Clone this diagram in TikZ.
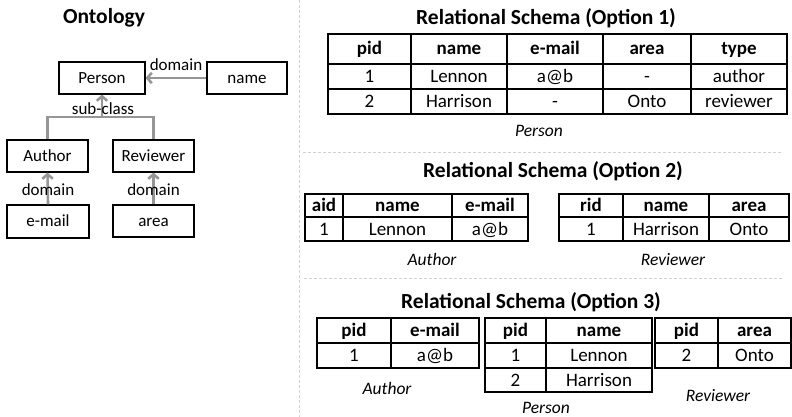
\documentclass[tikz,border=0pt]{standalone}
\usepackage{fontspec}
\setmainfont{Carlito}
\usetikzlibrary{arrows.meta,shadows}
\definecolor{conn}{RGB}{150,150,150}
\definecolor{sepc}{RGB}{208,208,208}
\newcommand\tcell[7][cell]{\node[#1,minimum width={(#5-#3)*1pt},minimum height={(#6-#4)*1pt}] (#2) at ({(#3+#5)/2},{(#4+#6)/2}) {#7};}
\begin{document}
\begin{tikzpicture}[x=1pt,y=-1pt,
  cell/.style={draw=black,line width=1.2pt,inner sep=0pt,font=\fontsize{19}{22}\selectfont,text height=12pt,text depth=0pt},
  hcell/.style={cell,font=\fontsize{19}{22}\selectfont\bfseries},
  title/.style={font=\fontsize{21.5}{25}\selectfont\bfseries,inner sep=0pt,anchor=base},
  caption/.style={font=\fontsize{17.5}{21}\selectfont\itshape,inner sep=0pt,anchor=base},
  ont/.style={draw=black,line width=1.2pt,fill=white,inner sep=0pt,font=\fontsize{17}{20}\selectfont,text height=10.9pt,text depth=0pt,
    drop shadow={shadow xshift=1.3pt,shadow yshift=-1.3pt,opacity=0.35}},
  lbl/.style={font=\fontsize{17}{20}\selectfont,inner sep=0pt,anchor=base},
  gline/.style={draw=conn,line width=2.6pt},
  garrow/.style={gline,-{Straight Barb[length=4.5pt,width=10.5pt]}},
  sepline/.style={draw=sepc,line width=0.8pt,dash pattern=on 3pt off 2pt}]
\useasboundingbox (0,0) rectangle (792,417);
% separators
\draw[sepline] (299,0) -- (299,417);
\draw[sepline] (303,152) -- (783,152);
\draw[sepline] (304,278) -- (783,278);
% ---------------- Ontology ----------------
\node[title] (ontt) at (104,23.5) {Ontology};
\node[ont,minimum width=86pt,minimum height=32pt] (person) at (102,78) {Person};
\node[ont,minimum width=80pt,minimum height=32pt] (name) at (247,78) {name};
\node[ont,minimum width=81pt,minimum height=32pt] (author) at (47.5,156) {Author};
\node[ont,minimum width=81pt,minimum height=32pt] (reviewer) at (153.5,156) {Reviewer};
\node[ont,minimum width=82pt,minimum height=33pt] (email) at (48,221.5) {e-mail};
\node[ont,minimum width=81pt,minimum height=32pt] (area) at (153.5,221) {area};
\coordinate (j) at (102,117);
\draw[garrow] (name.west) -- (person.east);
\draw[gline] (author.north) |- (j) -| (reviewer.north);
\draw[garrow] (j) -- (person.south);
\draw[garrow] (email.north) -- (author.south);
\draw[garrow] (area.north) -- (reviewer.south);
\node[lbl] (l1) at (176,70.5) {domain};
\node[lbl] (l2) at (103,114) {sub-class};
\node[lbl] (l3) at (48,195) {domain};
\node[lbl] (l4) at (153.5,195) {domain};
% ---------------- Option 1 ----------------
\node[title] (t1) at (546,25) {Relational Schema (Option 1)};
\tcell[hcell]{a11}{328}{34}{411}{64}{pid}
\tcell[hcell]{a12}{411}{34}{507}{64}{name}
\tcell[hcell]{a13}{507}{34}{603}{64}{e-mail}
\tcell[hcell]{a14}{603}{34}{691}{64}{area}
\tcell[hcell]{a15}{691}{34}{787}{64}{type}
\tcell{a21}{328}{64}{411}{89}{1}
\tcell{a22}{411}{64}{507}{89}{Lennon}
\tcell{a23}{507}{64}{603}{89}{a@b}
\tcell{a24}{603}{64}{691}{89}{-}
\tcell{a25}{691}{64}{787}{89}{author}
\tcell{a31}{328}{89}{411}{114}{2}
\tcell{a32}{411}{89}{507}{114}{Harrison}
\tcell{a33}{507}{89}{603}{114}{-}
\tcell{a34}{603}{89}{691}{114}{Onto}
\tcell{a35}{691}{89}{787}{114}{reviewer}
\node[caption] (c1) at (539,136) {Person};
% ---------------- Option 2 ----------------
\node[title] (t2) at (553,177) {Relational Schema (Option 2)};
\tcell[hcell]{b11}{305}{194}{343}{217}{aid}
\tcell[hcell]{b12}{343}{194}{452}{217}{name}
\tcell[hcell]{b13}{452}{194}{528}{217}{e-mail}
\tcell{b21}{305}{217}{343}{241}{1}
\tcell{b22}{343}{217}{452}{241}{Lennon}
\tcell{b23}{452}{217}{528}{241}{a@b}
\tcell[hcell]{d11}{559}{194}{623}{217}{rid}
\tcell[hcell]{d12}{623}{194}{709}{217}{name}
\tcell[hcell]{d13}{709}{194}{789}{217}{area}
\tcell{d21}{559}{217}{623}{241}{1}
\tcell{d22}{623}{217}{709}{241}{Harrison}
\tcell{d23}{709}{217}{789}{241}{Onto}
\node[caption] (c2) at (432,265) {Author};
\node[caption] (c3) at (673,265) {Reviewer};
% ---------------- Option 3 ----------------
\node[title] (t3) at (531,308) {Relational Schema (Option 3)};
\tcell[hcell]{e11}{317}{318}{391}{343}{pid}
\tcell[hcell]{e12}{391}{318}{479}{343}{e-mail}
\tcell{e21}{317}{343}{391}{368}{1}
\tcell{e22}{391}{343}{479}{368}{a@b}
\tcell[hcell]{f11}{485}{318}{546}{343}{pid}
\tcell[hcell]{f12}{546}{318}{652}{343}{name}
\tcell{f21}{485}{343}{546}{368}{1}
\tcell{f22}{546}{343}{652}{368}{Lennon}
\tcell{f31}{485}{368}{546}{392}{2}
\tcell{f32}{546}{368}{652}{392}{Harrison}
\tcell[hcell]{g11}{655}{318}{718}{343}{pid}
\tcell[hcell]{g12}{718}{318}{791}{343}{area}
\tcell{g21}{655}{343}{718}{368}{2}
\tcell{g22}{718}{343}{791}{368}{Onto}
\node[caption] (c4) at (387,394) {Author};
\node[caption] (c5) at (546,413) {Person};
\node[caption] (c6) at (718,401) {Reviewer};
\end{tikzpicture}
\end{document}
